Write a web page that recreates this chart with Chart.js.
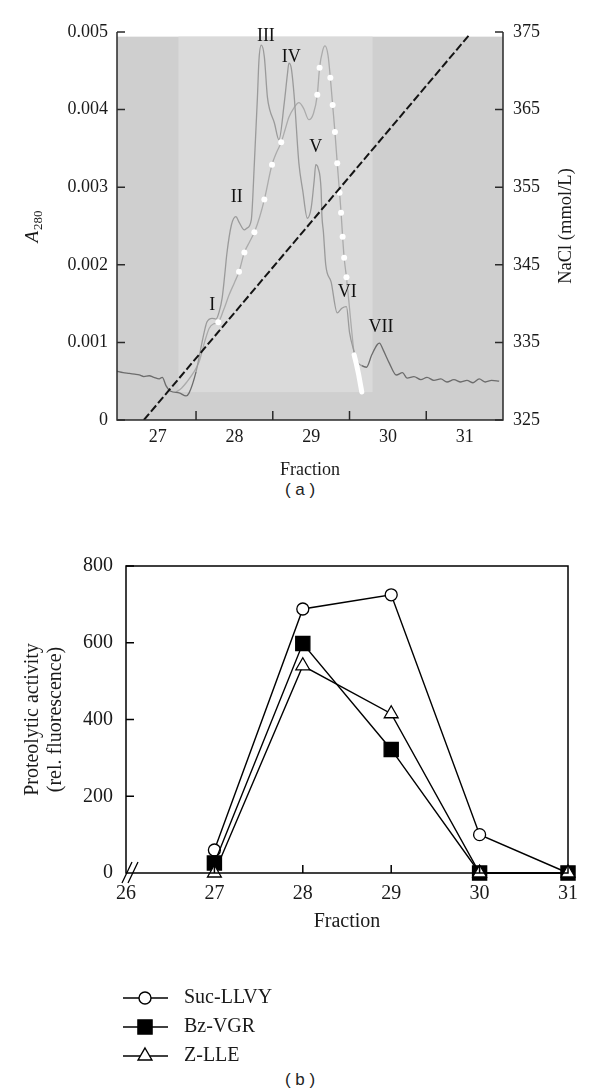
<!DOCTYPE html>
<html>
<head>
<meta charset="utf-8">
<script src="https://cdn.jsdelivr.net/npm/chart.js@4.4.1/dist/chart.umd.min.js"></script>
<style>
html, body { margin: 0; padding: 0; background: #fff; }
body { width: 600px; height: 1089px; position: relative; overflow: hidden; }
#wa { position: absolute; left: 0; top: 0; width: 600px; height: 480px; }
#wb { position: absolute; left: 0; top: 530px; width: 600px; height: 540px; }
.cap { position: absolute; left: 0; width: 600px; text-align: center;
       font-family: "Liberation Sans", Arial, sans-serif; font-size: 17px; color: #222; }
</style>
</head>
<body>
<div id="wa"><canvas id="ca"></canvas></div>
<div class="cap" style="top:480px">( a )</div>
<div id="wb"><canvas id="cb"></canvas></div>
<div class="cap" style="top:1070px">( b )</div>
<script>
// ---- (a) elution profile ----
const traceFraction = [26.46, 26.55, 26.63, 26.70, 26.76, 26.82, 26.89, 26.95, 27.02, 27.06, 27.11, 27.17, 27.28, 27.37, 27.41,
    27.50, 27.54, 27.58, 27.62, 27.64, 27.71, 27.76, 27.80, 27.84, 27.88, 27.90, 27.96, 28.02, 28.06, 28.13, 28.16, 28.22,
    28.26, 28.30, 28.32, 28.35, 28.39, 28.43, 28.46, 28.52, 28.58, 28.65, 28.69, 28.71, 28.74, 28.78, 28.84, 28.89, 28.95,
    29.00, 29.04, 29.06, 29.09, 29.13, 29.14, 29.16, 29.19, 29.26, 29.34, 29.40, 29.46, 29.50, 29.56, 29.60, 29.66, 29.72,
    29.79, 29.86, 29.89, 29.94, 30.02, 30.11, 30.19, 30.25, 30.34, 30.43, 30.51, 30.60, 30.69, 30.77, 30.86, 30.95, 31.03,
    31.11, 31.19, 31.27, 31.35, 31.45];
const traceA280 = [0.00063, 0.00061, 0.00060, 0.00059, 0.00058, 0.00056, 0.00057, 0.00055, 0.00053, 0.00055, 0.00044, 0.00037, 0.00035, 0.00031, 0.00035,
    0.00062, 0.00081, 0.00101, 0.00119, 0.00126, 0.00131, 0.00130, 0.00139, 0.00157, 0.00193, 0.00213, 0.00251, 0.00262, 0.00255, 0.00245, 0.00247, 0.00258,
    0.00331, 0.00416, 0.00464, 0.00483, 0.00468, 0.00416, 0.00400, 0.00383, 0.00361, 0.00409, 0.00445, 0.00460, 0.00454, 0.00416, 0.00331, 0.00296, 0.00260,
    0.00273, 0.00309, 0.00329, 0.00325, 0.00296, 0.00264, 0.00242, 0.00200, 0.00178, 0.00138, 0.00144, 0.00146, 0.00113, 0.00088, 0.00075, 0.00070, 0.00068,
    0.00084, 0.00097, 0.00099, 0.00090, 0.00073, 0.00058, 0.00061, 0.00054, 0.00056, 0.00052, 0.00055, 0.00051, 0.00053, 0.00049, 0.00052, 0.00049, 0.00051,
    0.00048, 0.00053, 0.00049, 0.00051, 0.00050];

// second, lighter trace (the one carrying the white marks)
const shoulderFraction = [27.24, 27.31, 27.38, 27.46, 27.54, 27.61, 27.67, 27.73, 27.79, 27.86, 27.93, 28.00, 28.06, 28.13, 28.20,
    28.26, 28.33, 28.39, 28.49, 28.55, 28.61, 28.66, 28.71, 28.78, 28.84, 28.90, 28.97, 29.03, 29.08, 29.11, 29.15, 29.18,
    29.22, 29.25, 29.28, 29.31, 29.34, 29.37, 29.39, 29.41, 29.43, 29.46, 29.50, 29.53, 29.56];
const shoulderA280 = [0.00036, 0.00041, 0.00049, 0.00060, 0.00075, 0.00100, 0.00118, 0.00124, 0.00126, 0.00142, 0.00161, 0.00177, 0.00191, 0.00216, 0.00230,
    0.00242, 0.00262, 0.00284, 0.00329, 0.00345, 0.00358, 0.00374, 0.00390, 0.00403, 0.00409, 0.00402, 0.00387, 0.00395, 0.00419, 0.00454, 0.00476, 0.00482,
    0.00470, 0.00441, 0.00406, 0.00371, 0.00331, 0.00293, 0.00267, 0.00236, 0.00209, 0.00184, 0.00144, 0.00113, 0.00084];

const dotFraction = [27.79, 28.06, 28.13, 28.26, 28.39, 28.49, 28.61, 29.08, 29.11, 29.25, 29.28, 29.31, 29.34, 29.37, 29.39, 29.41, 29.43, 29.46];
const dotA280 = [0.00126, 0.00191, 0.00216, 0.00242, 0.00284, 0.00329, 0.00358, 0.00419, 0.00454, 0.00441, 0.00406, 0.00371, 0.00331, 0.00293, 0.00267, 0.00236, 0.00209, 0.00184];

const smearFraction = [29.56, 29.59, 29.62, 29.66];
const smearA280 = [0.00084, 0.00072, 0.00058, 0.00036];

const naclFraction = [26.82, 31.05];
const naclConc = [325, 374.5];

const peakNames = ["I", "II", "III", "IV", "V", "VI", "VII"];
const peakFraction = [27.71, 28.03, 28.41, 28.74, 29.06, 29.47, 29.91];
const peakA280 = [0.00148, 0.00287, 0.00495, 0.00468, 0.00351, 0.00165, 0.00119];

const a280Ticks = [0, 0.001, 0.002, 0.003, 0.004, 0.005];
const naclTicks = [325, 335, 345, 355, 365, 375];
const fractionLabelsA = [27, 28, 29, 30, 31];
const fractionMarksA = [27.5, 28.5, 29.5, 30.5];

// ---- (b) proteolytic activity of the pooled fractions ----
const fractions = [27, 28, 29, 30, 31];
const sucLLVY = [60, 688, 725, 100, 0];
const bzVGR = [26, 598, 322, 0, 0];
const zLLE = [0, 540, 415, 0, 0];
const activityTicks = [0, 200, 400, 600, 800];
const fractionTicksB = [26, 27, 28, 29, 30, 31];

const SERIF = '"Liberation Serif", "DejaVu Serif", serif';
Chart.defaults.font.family = SERIF;
Chart.defaults.color = "#1a1a1a";

const pairs = (xs, ys) => xs.map((x, i) => ({ x, y: ys[i] }));

function inwardTicks(ctx, scale, area, values, side, len) {
    ctx.beginPath();
    values.forEach(v => {
        const p = scale.getPixelForValue(v);
        if (side === "left") { ctx.moveTo(area.left, p); ctx.lineTo(area.left + len, p); }
        if (side === "right") { ctx.moveTo(area.right, p); ctx.lineTo(area.right - len, p); }
        if (side === "bottom") { ctx.moveTo(p, area.bottom); ctx.lineTo(p, area.bottom - len); }
    });
    ctx.stroke();
}

function upText(ctx, text, x, y, font) {
    ctx.save();
    ctx.translate(x, y);
    ctx.rotate(-Math.PI / 2);
    ctx.font = font;
    ctx.textAlign = "center";
    ctx.textBaseline = "middle";
    ctx.fillText(text, 0, 0);
    ctx.restore();
}

// grey scan backdrop of the chromatogram
const scanBackdrop = {
    id: "scanBackdrop",
    beforeDraw(chart) {
        const { ctx, chartArea: a, scales: { x, y } } = chart;
        const top = y.getPixelForValue(0.00494);
        ctx.save();
        ctx.fillStyle = "#cfcfcf";
        ctx.fillRect(a.left, top, a.right - a.left, a.bottom - top);
        const l = x.getPixelForValue(27.27), r = x.getPixelForValue(29.8), b = y.getPixelForValue(0.00036);
        ctx.fillStyle = "#dadada";
        ctx.fillRect(l, top, r - l, b - top);
        ctx.restore();
    }
};

const overlayA = {
    id: "overlayA",
    afterDraw(chart) {
        const { ctx, chartArea: a, scales: { x, y, y2 } } = chart;
        ctx.save();
        ctx.strokeStyle = "#2a2a2a";
        ctx.lineWidth = 1.5;
        ctx.beginPath();
        ctx.moveTo(a.left, a.top); ctx.lineTo(a.left, a.bottom); ctx.lineTo(a.right, a.bottom); ctx.lineTo(a.right, a.top);
        ctx.stroke();
        inwardTicks(ctx, y, a, a280Ticks, "left", 8);
        inwardTicks(ctx, y2, a, naclTicks, "right", 8);
        inwardTicks(ctx, x, a, fractionMarksA, "bottom", 9);

        ctx.fillStyle = "#111";
        ctx.font = "18px " + SERIF;
        ctx.textAlign = "center";
        ctx.textBaseline = "middle";
        peakNames.forEach((n, i) => ctx.fillText(n, x.getPixelForValue(peakFraction[i]), y.getPixelForValue(peakA280[i])));

        ctx.fillStyle = "#1a1a1a";
        ctx.fillText("Fraction", (a.left + a.right) / 2, 470);
        upText(ctx, "NaCl (mmol/L)", 566, 226, "18.5px " + SERIF);

        // A280 with subscript
        ctx.translate(31, 227);
        ctx.rotate(-Math.PI / 2);
        ctx.textAlign = "left";
        ctx.textBaseline = "alphabetic";
        ctx.font = "italic 19px " + SERIF;
        const wA = ctx.measureText("A").width;
        ctx.font = "13px " + SERIF;
        const wS = ctx.measureText("280").width;
        const s = -(wA + wS) / 2;
        ctx.font = "italic 19px " + SERIF;
        ctx.fillText("A", s, 7);
        ctx.font = "13px " + SERIF;
        ctx.fillText("280", s + wA + 1, 11);
        ctx.restore();
    }
};

const hiddenGrid = { display: false, drawTicks: false };

new Chart(document.getElementById("ca"), {
    type: "line",
    data: {
        datasets: [
            { data: pairs(naclFraction, naclConc), yAxisID: "y2", borderColor: "#141414", borderWidth: 2,
              borderDash: [8, 3], pointRadius: 0 },
            { data: pairs(dotFraction, dotA280), yAxisID: "y", showLine: false, pointRadius: 3,
              pointBackgroundColor: "#ffffff", pointBorderWidth: 0 },
            { data: pairs(smearFraction, smearA280), yAxisID: "y", borderColor: "#ffffff", borderWidth: 5,
              borderCapStyle: "round", pointRadius: 0 },
            { data: pairs(traceFraction, traceA280), yAxisID: "y", borderWidth: 1.3, pointRadius: 0,
              cubicInterpolationMode: "monotone",
              segment: { borderColor: c => (c.p0.parsed.x < 27.45 || c.p0.parsed.x > 29.62) ? "#6c6c6c" : "#9a9a9a" } },
            { data: pairs(shoulderFraction, shoulderA280), yAxisID: "y", borderColor: "#ababab", borderWidth: 1.3,
              pointRadius: 0, cubicInterpolationMode: "monotone" }
        ]
    },
    options: {
        responsive: true,
        maintainAspectRatio: false,
        animation: false,
        layout: { padding: { top: 32, left: 0, right: 0, bottom: 0 } },
        plugins: { legend: { display: false }, tooltip: { enabled: false } },
        scales: {
            x: {
                type: "linear", min: 26.47, max: 31.5,
                grid: hiddenGrid, border: { display: false },
                afterBuildTicks: s => { s.ticks = fractionLabelsA.map(value => ({ value })); },
                ticks: { font: { size: 18 }, padding: 6, maxRotation: 0, autoSkip: false, callback: v => String(v) },
                afterFit: s => { s.height = 60; }
            },
            y: {
                position: "left", min: 0, max: 0.005,
                grid: hiddenGrid, border: { display: false },
                afterBuildTicks: s => { s.ticks = a280Ticks.map(value => ({ value })); },
                ticks: { font: { size: 18 }, padding: 9, callback: v => v === 0 ? "0" : v.toFixed(3) },
                afterFit: s => { s.width = 117; }
            },
            y2: {
                position: "right", min: 325, max: 375,
                grid: hiddenGrid, border: { display: false },
                afterBuildTicks: s => { s.ticks = naclTicks.map(value => ({ value })); },
                ticks: { font: { size: 18 }, padding: 10, callback: v => String(v) },
                afterFit: s => { s.width = 97; }
            }
        }
    },
    plugins: [scanBackdrop, overlayA]
});

// ---- panel (b) ----
const seriesB = [
    { label: "Suc-LLVY", values: sucLLVY, style: "circle", radius: 6, fill: "#ffffff" },
    { label: "Bz-VGR", values: bzVGR, style: "rect", radius: 10, fill: "#000000" },
    { label: "Z-LLE", values: zLLE, style: "triangle", radius: 8, fill: "#ffffff" }
];

const overlayB = {
    id: "overlayB",
    afterDraw(chart) {
        const { ctx, chartArea: a, scales: { x, y } } = chart;
        ctx.save();
        ctx.strokeStyle = "#000";
        ctx.lineWidth = 1.5;
        ctx.strokeRect(a.left, a.top, a.right - a.left, a.bottom - a.top);
        inwardTicks(ctx, y, a, activityTicks.slice(1), "left", 8);
        inwardTicks(ctx, x, a, fractionTicksB.slice(1, -1), "bottom", 8);

        // axis break at the origin
        ctx.lineWidth = 1.3;
        ctx.beginPath();
        ctx.moveTo(a.left - 4, a.bottom + 10); ctx.lineTo(a.left + 6, a.bottom - 11);
        ctx.moveTo(a.left + 2, a.bottom + 10); ctx.lineTo(a.left + 12, a.bottom - 11);
        ctx.stroke();

        ctx.fillStyle = "#1a1a1a";
        ctx.textAlign = "center";
        ctx.textBaseline = "middle";
        ctx.font = "20px " + SERIF;
        ctx.fillText("Fraction", (a.left + a.right) / 2, 392);
        upText(ctx, "Proteolytic activity", 33, (a.top + a.bottom) / 2, "20px " + SERIF);
        upText(ctx, "(rel. fluorescence)", 56, (a.top + a.bottom) / 2, "20px " + SERIF);

        // legend, stacked under the plot
        ctx.textAlign = "left";
        seriesB.forEach((s, i) => {
            const ly = 468 + i * 29;
            ctx.strokeStyle = "#000";
            ctx.lineWidth = 1.4;
            ctx.beginPath(); ctx.moveTo(123, ly); ctx.lineTo(168, ly); ctx.stroke();
            ctx.fillStyle = s.fill;
            Chart.helpers.drawPoint(ctx, { pointStyle: s.style, radius: s.radius, borderWidth: 1.3, rotation: 0 }, 145, ly);
            ctx.fillStyle = "#1a1a1a";
            ctx.fillText(s.label, 184, ly);
        });
        ctx.restore();
    }
};

new Chart(document.getElementById("cb"), {
    type: "line",
    data: {
        // reversed so that the triangles end up on top of the squares
        datasets: seriesB.slice().reverse().map(s => ({
            label: s.label,
            data: pairs(fractions, s.values),
            borderColor: "#000", borderWidth: 1.4,
            pointStyle: s.style, pointRadius: s.radius,
            pointBackgroundColor: s.fill, pointBorderColor: "#000", pointBorderWidth: 1.3,
            clip: false
        }))
    },
    options: {
        responsive: true,
        maintainAspectRatio: false,
        animation: false,
        layout: { padding: { top: 36, left: 0, right: 32, bottom: 0 } },
        plugins: { legend: { display: false }, tooltip: { enabled: false } },
        scales: {
            x: {
                type: "linear", min: 26, max: 31,
                grid: hiddenGrid, border: { display: false },
                afterBuildTicks: s => { s.ticks = fractionTicksB.map(value => ({ value })); },
                ticks: { font: { size: 20 }, padding: 9, maxRotation: 0, autoSkip: false, callback: v => String(v) },
                afterFit: s => { s.height = 197; }
            },
            y: {
                min: 0, max: 800,
                grid: hiddenGrid, border: { display: false },
                afterBuildTicks: s => { s.ticks = activityTicks.map(value => ({ value })); },
                ticks: { font: { size: 20 }, padding: 13, callback: v => String(v) },
                afterFit: s => { s.width = 126; }
            }
        }
    },
    plugins: [overlayB]
});
</script>
</body>
</html>
